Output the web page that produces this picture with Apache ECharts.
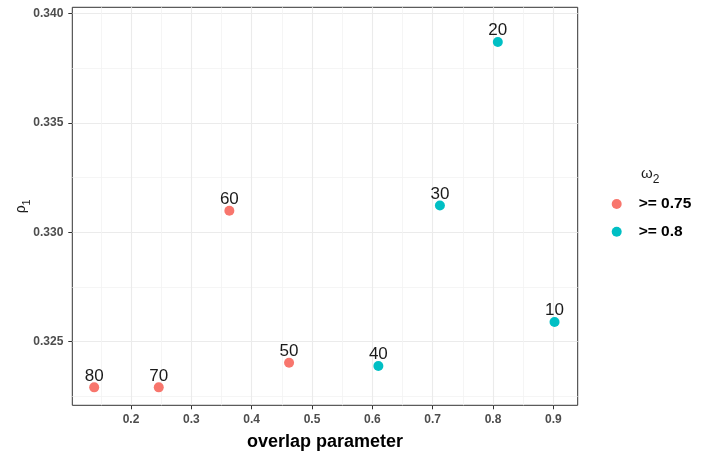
<!DOCTYPE html>
<html>
<head>
<meta charset="utf-8">
<script src="https://cdn.jsdelivr.net/npm/echarts@6/dist/echarts.min.js"></script>
<style>html,body{margin:0;padding:0;background:#fff}#c{width:708px;height:453px}</style>
</head>
<body>
<div id="c"></div>
<script>
// Data
const groupNames = ['>= 0.75', '>= 0.8'];
const groupColors = ['#F8766D', '#00BFC4'];
const labelsA = [80, 70, 60, 50];
const overlapA = [0.139, 0.246, 0.363, 0.462];
const rhoA = [0.32291, 0.32291, 0.33099, 0.32404];
const labelsB = [40, 30, 20, 10];
const overlapB = [0.610, 0.712, 0.808, 0.902];
const rhoB = [0.32389, 0.33123, 0.33871, 0.3259];
const xTicks = [0.2, 0.3, 0.4, 0.5, 0.6, 0.7, 0.8, 0.9];
const xMinor = [0.15, 0.25, 0.35, 0.45, 0.55, 0.65, 0.75, 0.85];
const yTicks = [0.325, 0.330, 0.335, 0.340];
const yMinor = [0.3225, 0.3275, 0.3325, 0.3375];

const font = "'Liberation Sans', Arial, sans-serif";
const gridCol = '#EBEBEB';

function pts(xs, ys, labs) {
  return xs.map((x, i) => ({ value: [x, ys[i]], name: String(labs[i]) }));
}

const chart = echarts.init(document.getElementById('c'), null, { renderer: 'canvas' });
const labelCfg = {
  show: true, position: 'top', distance: -2,
  formatter: p => p.name, fontSize: 17, color: '#1a1a1a', fontFamily: font
};
chart.setOption({
  animation: false,
  backgroundColor: '#fff',
  title: {
    text: '{a|ω}{b|2}', left: 641, top: 166, padding: 0,
    textStyle: {
      fontWeight: 'normal',
      rich: {
        a: { fontSize: 15, fontWeight: 'normal', color: '#1a1a1a', fontFamily: font, verticalAlign: 'bottom' },
        b: { fontSize: 12, fontWeight: 'normal', color: '#1a1a1a', fontFamily: font, verticalAlign: 'bottom', padding: [0, 0, -5, 0] }
      }
    }
  },
  legend: {
    orient: 'vertical', left: 611.7, top: 196, padding: 0,
    itemWidth: 10, itemHeight: 10, itemGap: 11.7, icon: 'circle',
    data: groupNames,
    textStyle: { fontSize: 15.5, fontWeight: 'bold', color: '#000', fontFamily: font, padding: [0, 0, 0, 12] }
  },
  grid: {
    left: 72.3, right: 130.3, top: 7.3, bottom: 47.7,
    outerBoundsMode: 'none', containLabel: false,
    show: true, borderColor: '#333', borderWidth: 1, backgroundColor: '#fff'
  },
  xAxis: [{
    type: 'value', min: 0.1027, max: 0.9404,
    name: 'overlap parameter', nameLocation: 'middle', nameGap: 28,
    nameTextStyle: { fontSize: 18, fontWeight: 'bold', color: '#000', fontFamily: font },
    axisLine: { show: false },
    axisTick: { show: true, length: 4, lineStyle: { color: '#333' }, customValues: xTicks },
    axisLabel: { customValues: xTicks, margin: 8, fontSize: 12, fontWeight: 'bold', color: '#4D4D4D', fontFamily: font, formatter: v => v.toFixed(1) },
    splitLine: { show: true, lineStyle: { color: gridCol, width: 1.1 } }
  }, {
    type: 'value', min: 0.1027, max: 0.9404, position: 'bottom',
    axisLine: { show: false },
    axisTick: { show: false, customValues: xMinor },
    axisLabel: { show: false, customValues: xMinor },
    splitLine: { show: true, lineStyle: { color: '#F2F2F2', width: 0.8 } }
  }],
  yAxis: [{
    type: 'value', min: 0.32209, max: 0.340293,
    name: '{a|ρ}{b|1}', nameLocation: 'middle', nameGap: 44, nameRotate: 90, nameMoveOverlap: false,
    nameTextStyle: {
      rich: {
        a: { fontSize: 14, color: '#1a1a1a', fontFamily: font, verticalAlign: 'bottom' },
        b: { fontSize: 11, color: '#1a1a1a', fontFamily: font, verticalAlign: 'bottom', padding: [0, 0, -4, 0] }
      }
    },
    axisLine: { show: false },
    axisTick: { show: true, length: 4, lineStyle: { color: '#333' }, customValues: yTicks },
    axisLabel: { customValues: yTicks, margin: 9, fontSize: 12, fontWeight: 'bold', color: '#4D4D4D', fontFamily: font, formatter: v => v.toFixed(3) },
    splitLine: { show: true, lineStyle: { color: gridCol, width: 1.1 } }
  }, {
    type: 'value', min: 0.32209, max: 0.340293, position: 'left',
    axisLine: { show: false },
    axisTick: { show: false, customValues: yMinor },
    axisLabel: { show: false, customValues: yMinor },
    splitLine: { show: true, lineStyle: { color: '#F2F2F2', width: 0.8 } }
  }],
  series: [{
    name: groupNames[0], type: 'scatter', symbolSize: 10,
    itemStyle: { color: groupColors[0], opacity: 1 },
    label: labelCfg,
    data: pts(overlapA, rhoA, labelsA)
  }, {
    name: groupNames[1], type: 'scatter', symbolSize: 10,
    itemStyle: { color: groupColors[1], opacity: 1 },
    label: labelCfg,
    data: pts(overlapB, rhoB, labelsB)
  }]
});
</script>
</body>
</html>
